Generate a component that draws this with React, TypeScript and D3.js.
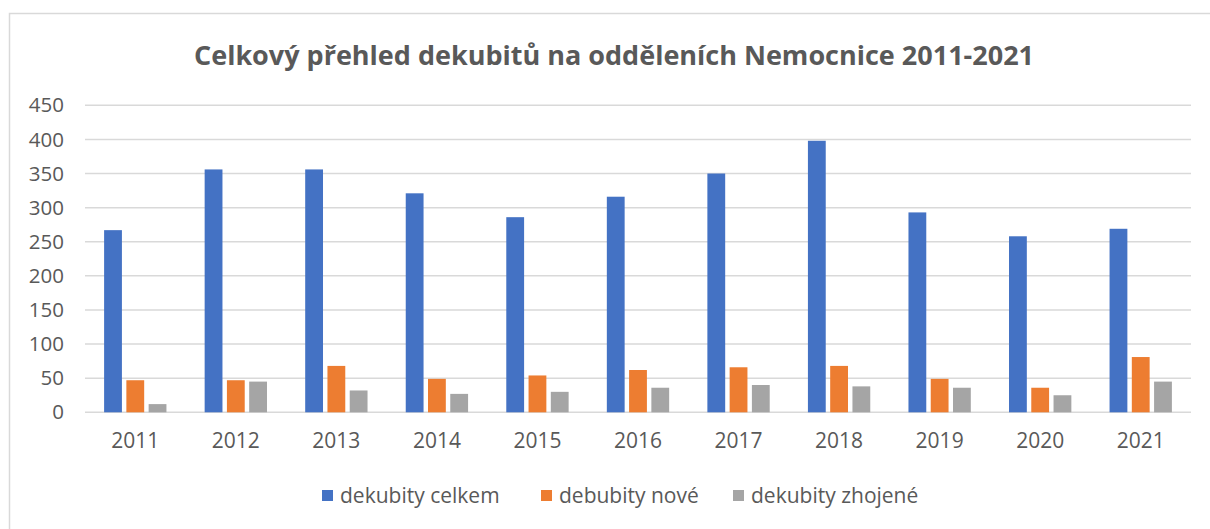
import React, { useRef, useEffect } from 'react'
import * as d3 from 'd3'

const years = ['2011', '2012', '2013', '2014', '2015', '2016', '2017', '2018', '2019', '2020', '2021']
const celkem = [267, 356, 356, 321, 286, 316, 350, 398, 293, 258, 269]
const nove = [47, 47, 68, 49, 54, 62, 66, 68, 49, 36, 81]
const zhojene = [12, 45, 32, 27, 30, 36, 40, 38, 36, 25, 45]
const seriesNames = ['dekubity celkem', 'debubity nové', 'dekubity zhojené']
const colors = ['#4472C4', '#ED7D31', '#A5A5A5']
const yTicks = [0, 50, 100, 150, 200, 250, 300, 350, 400, 450]
const title = 'Celkový přehled dekubitů na odděleních Nemocnice 2011-2021'

const W = 1210
const H = 529
const FONT = '"Open Sans", "Noto Sans", sans-serif'

export default function App() {
    const ref = useRef<SVGSVGElement>(null)

    useEffect(() => {
        const svg = d3.select(ref.current)
        svg.selectAll('*').remove()

        const left = 85, right = 1191, top = 105.3, bottom = 412.3
        const series = [celkem, nove, zhojene]

        // chart frame
        svg.append('rect')
            .attr('x', 9.5).attr('y', 13.5)
            .attr('width', W + 20).attr('height', H + 20)
            .attr('fill', '#fff').attr('stroke', '#d9d9d9').attr('stroke-width', 1.5)

        svg.append('text')
            .attr('x', 614).attr('y', 65)
            .attr('text-anchor', 'middle')
            .attr('font-family', FONT).attr('font-weight', 700).attr('font-size', 27)
            .attr('fill', '#595959')
            .text(title)

        const y = d3.scaleLinear().domain([0, 450]).range([bottom, top])
        const x0 = d3.scaleBand().domain(years).range([left, right]).paddingInner(0.38).paddingOuter(0.19)
        const x1 = d3.scaleBand().domain(d3.range(3).map(String)).range([0, x0.bandwidth()]).paddingInner(0.2)

        // gridlines
        svg.append('g')
            .selectAll('line')
            .data(yTicks)
            .join('line')
            .attr('x1', left).attr('x2', right)
            .attr('y1', (d) => y(d)).attr('y2', (d) => y(d))
            .attr('stroke', '#d9d9d9').attr('stroke-width', 1.5)

        svg.append('g')
            .selectAll('text')
            .data(yTicks)
            .join('text')
            .attr('x', 64).attr('y', (d) => y(d))
            .attr('dy', '0.35em')
            .attr('text-anchor', 'end')
            .attr('font-family', FONT).attr('font-size', 20.5)
            .attr('fill', '#595959')
            .text((d) => d)

        // bars
        const groups = svg.append('g')
            .selectAll('g')
            .data(years)
            .join('g')
            .attr('transform', (d) => 'translate(' + x0(d) + ',0)')

        groups.selectAll('rect')
            .data((d, i) => series.map((s, k) => ({ k, v: s[i] })))
            .join('rect')
            .attr('x', (d) => x1(String(d.k)))
            .attr('y', (d) => y(d.v))
            .attr('width', x1.bandwidth())
            .attr('height', (d) => y(0) - y(d.v))
            .attr('fill', (d) => colors[d.k])

        // x labels
        svg.append('g')
            .selectAll('text')
            .data(years)
            .join('text')
            .attr('x', (d) => x0(d) + x0.bandwidth() / 2)
            .attr('y', 448)
            .attr('text-anchor', 'middle')
            .attr('font-family', FONT).attr('font-size', 21)
            .attr('fill', '#595959')
            .text((d) => d)

        // legend
        const legendX = [322, 541, 733]
        const legend = svg.append('g')
            .selectAll('g')
            .data(seriesNames)
            .join('g')
            .attr('transform', (d, i) => 'translate(' + legendX[i] + ',496)')
        legend.append('rect')
            .attr('x', 0).attr('y', -6)
            .attr('width', 11).attr('height', 11)
            .attr('fill', (d, i) => colors[i])
        legend.append('text')
            .attr('x', 18).attr('y', 0)
            .attr('dy', '0.35em')
            .attr('font-family', FONT).attr('font-size', 21)
            .attr('fill', '#595959')
            .text((d) => d)
    }, [])

    return (
        <svg ref={ref} width={W} height={H} style={{ position: 'absolute', left: 0, top: 0 }}></svg>
    )
}
